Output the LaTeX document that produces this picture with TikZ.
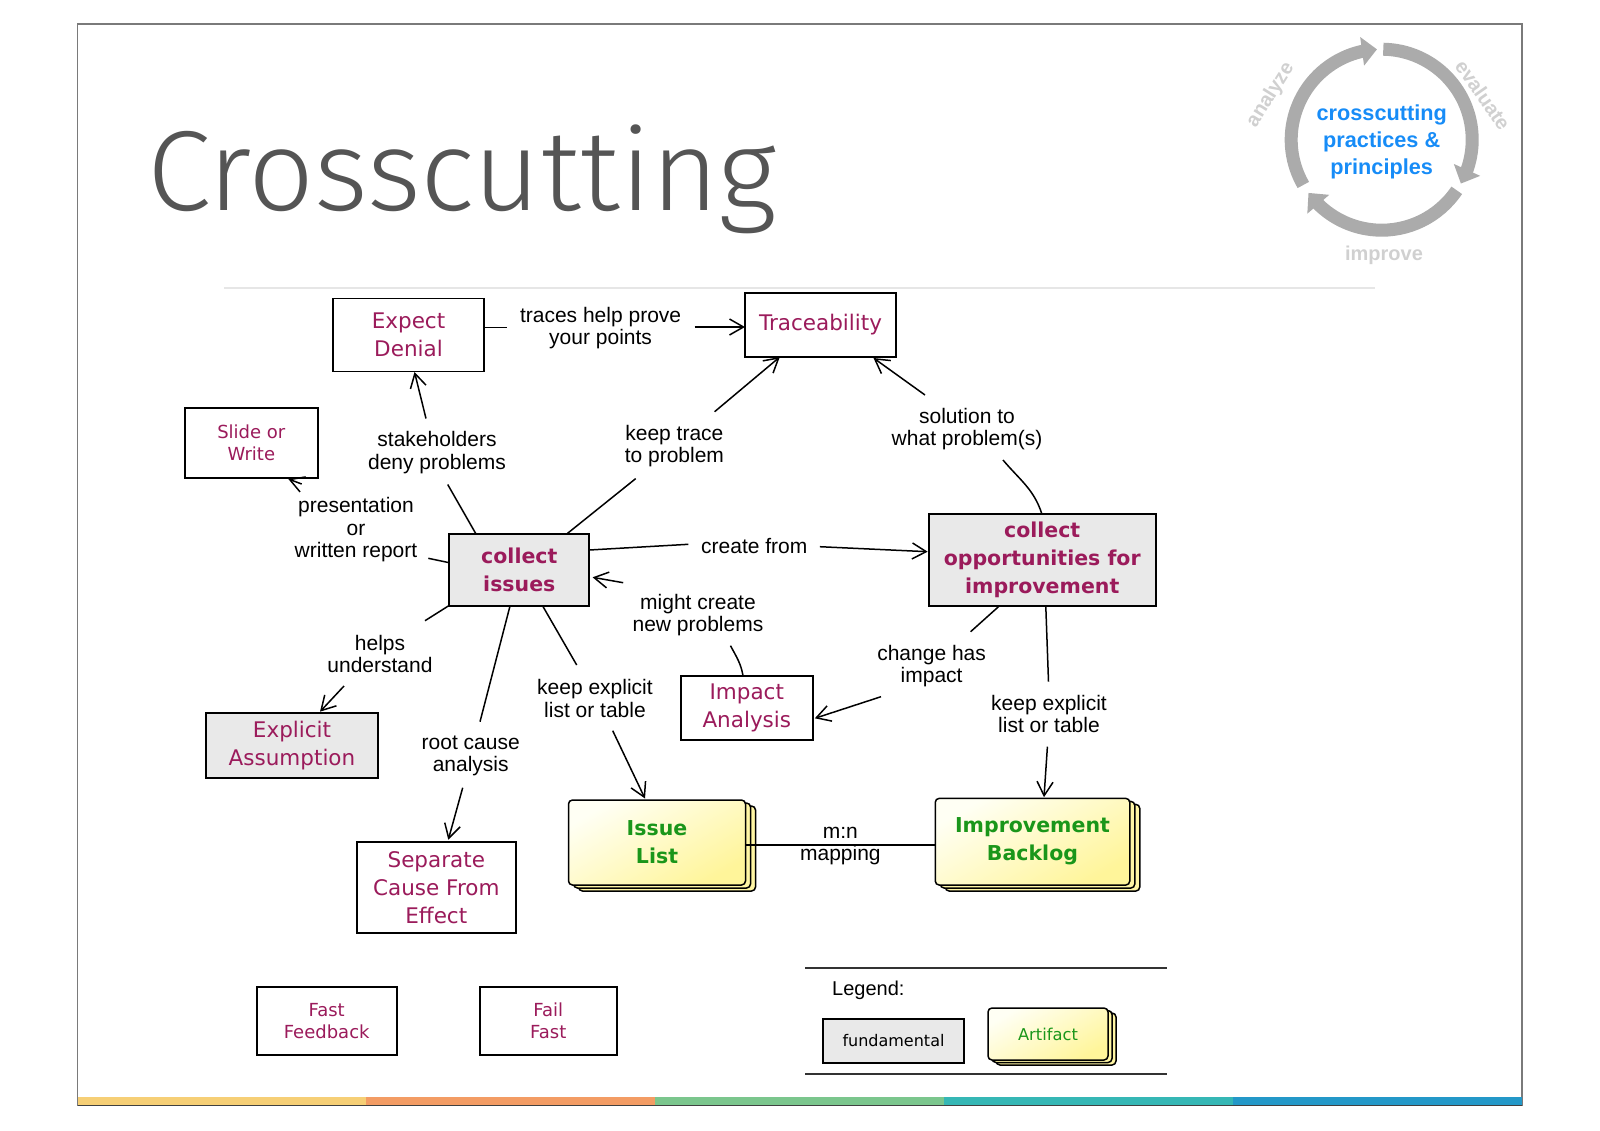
\documentclass[tikz,border=0pt]{standalone}
\usepackage{graphicx}
\usepackage{fontspec}
\usetikzlibrary{arrows.meta,bending}
\newfontfamily\labfont{Liberation Sans}
\newfontfamily\boxfont{DejaVu Sans}
\IfFontExistsTF{Fira Sans Light}{\newfontfamily\titlefont{Fira Sans Light}}{\newfontfamily\titlefont{Fira Sans}}
\definecolor{boxtext}{HTML}{9B1B5B}
\definecolor{fundgray}{HTML}{E9E9E9}
\definecolor{artgreen}{HTML}{1A961A}
\definecolor{artback}{HTML}{FFF6A4}
\definecolor{arttop}{HTML}{FFFFF4}
\definecolor{artbot}{HTML}{FFF59A}
\definecolor{ringgray}{HTML}{ABABAB}
\definecolor{ringtext}{HTML}{D0D0D0}
\definecolor{logoblue}{HTML}{178CF7}
\definecolor{titlegray}{HTML}{555555}
\definecolor{framegray}{HTML}{7A7A7A}
\definecolor{rulegray}{HTML}{E6E6E6}
\definecolor{barA}{HTML}{F6CF76}
\definecolor{barB}{HTML}{F39C64}
\definecolor{barC}{HTML}{7BC68D}
\definecolor{barD}{HTML}{35B7B5}
\definecolor{barE}{HTML}{2398C8}
\begin{document}
\begin{tikzpicture}[x=1pt,y=-1pt,
  box/.style={draw=black, line width=1.8pt, fill=white, text=boxtext, align=center, inner sep=0pt,
    font={\boxfont\fontsize{21.5}{28}\selectfont}},
  fund/.style={box, fill=fundgray, font={\boxfont\bfseries\fontsize{20.5}{28}\selectfont}},
  smallbox/.style={box, font={\boxfont\fontsize{18}{22}\selectfont}},
  lbl/.style={font={\labfont\fontsize{21}{22.5}\selectfont}, align=center, text=black, inner sep=0pt},
  conn/.style={line width=1.5pt, draw=black},
  arr/.style={conn, -{Straight Barb[length=14pt,width=16pt,line width=1.5pt]}},
  artf/.style={draw=black, line width=1.5pt, rounded corners=4pt, top color=arttop, bottom color=artbot,
    shading angle=30, text=artgreen, align=center, inner sep=0pt,
    font={\boxfont\bfseries\fontsize{20.5}{28}\selectfont}},
  artb/.style={draw=black, line width=1.5pt, rounded corners=4pt, fill=artback},
  ring/.style={draw=ringgray, line width=13pt, -{Triangle[length=15pt,width=28pt]}},
  ringlbl/.style={font={\labfont\bfseries\fontsize{20}{22}\selectfont}, text=ringtext, inner sep=0pt}
]
\useasboundingbox (0,0) rectangle (1600,1130);

% frame and colour bar
\draw[line width=1.2pt, draw=framegray] (77.5,24) rectangle (1522,1105);
\fill[barA] (77.5,1097) rectangle (366.4,1105);
\fill[barB] (366.4,1097) rectangle (655.3,1105);
\fill[barC] (655.3,1097) rectangle (944.2,1105);
\fill[barD] (944.2,1097) rectangle (1233.1,1105);
\fill[barE] (1233.1,1097) rectangle (1522,1105);
\draw[line width=1pt, draw=black!75] (77.5,1105) -- (1522,1105);

% title and rule
\node[anchor=base west, inner sep=0pt, text=titlegray] (title) at (147,210)
  {\resizebox{630pt}{85.7pt}{\titlefont\fontsize{120}{120}\selectfont Crosscutting}};
\draw[line width=2pt, draw=rulegray] (224,288) -- (1375,288);

% logo
\draw[ring] (1381.7,139.7) ++(150:90.5) arc[start angle=150, end angle=267, radius=90.5];
\draw[ring] (1381.7,139.7) ++(-89:90.5) arc[start angle=-89, end angle=29, radius=90.5];
\draw[ring] (1381.7,139.7) ++(34:90.5) arc[start angle=34, end angle=144, radius=90.5];
\node[font={\labfont\bfseries\fontsize{21.7}{26.7}\selectfont}, text=logoblue, align=center, inner sep=0pt]
  (logotext) at (1381.7,142) {crosscutting\\practices \&\\principles};
\node[ringlbl, rotate=58] (analyze) at (1270.7,95) {analyze};
\node[ringlbl, rotate=-55] (evaluate) at (1483,95) {evaluate};
\node[ringlbl] (improve) at (1384,255) {improve};

% main nodes
\node[box, minimum width=151pt, minimum height=73pt] (ED) at (408.5,335) {Expect\\Denial};
\node[box, minimum width=151pt, minimum height=64pt] (TR) at (820.5,325) {Traceability};
\node[smallbox, minimum width=132.7pt, minimum height=69.4pt] (SW) at (251.3,443) {Slide or\\Write};
\node[fund, minimum width=140pt, minimum height=71.7pt] (CI) at (519.3,570.2) {collect\\issues};
\node[fund, minimum width=227pt, minimum height=92pt] (COI) at (1042.2,560) {collect\\opportunities for\\improvement};
\node[box, minimum width=132.2pt, minimum height=64.3pt] (IA) at (746.8,707.8) {Impact\\Analysis};
\node[box, fill=fundgray, minimum width=172.3pt, minimum height=64.7pt] (EA) at (292,745.7) {Explicit\\Assumption};
\node[box, minimum width=159.3pt, minimum height=91.3pt] (SC) at (436.3,887.7) {Separate\\Cause From\\Effect};
\node[smallbox, minimum width=140pt, minimum height=68.3pt] (FF) at (326.7,1020.8) {Fast\\Feedback};
\node[smallbox, minimum width=136.7pt, minimum height=68.3pt] (FaF) at (548.3,1020.8) {Fail\\Fast};

% artifacts
\node[artb, minimum width=177pt, minimum height=85pt] (ILb2) at (667,848.5) {};
\node[artb, minimum width=177pt, minimum height=85pt] (ILb1) at (662,845.5) {};
\node[artf, minimum width=177pt, minimum height=85pt] (IL) at (657,842.5) {Issue\\List};
\node[artb, minimum width=194.5pt, minimum height=86.7pt] (IBb2) at (1042.5,847.7) {};
\node[artb, minimum width=194.5pt, minimum height=86.7pt] (IBb1) at (1037.5,844.7) {};
\node[artf, minimum width=194.5pt, minimum height=86.7pt] (IB) at (1032.5,841.7) {Improvement\\Backlog};

% labels
\node[lbl] (L1) at (600.6,328) {traces help prove\\your points};
\node[lbl] (L2) at (437,452.5) {stakeholders\\deny problems};
\node[lbl] (L3) at (674.4,446) {keep trace\\to problem};
\node[lbl] (L4) at (967,429) {solution to\\what problem(s)};
\node[lbl] (L5) at (356,530) {presentation\\or\\written report};
\node[lbl] (L6) at (754.3,546) {create from};
\node[lbl] (L7) at (698,615) {might create\\new problems};
\node[lbl] (L8) at (380,654) {helps\\understand};
\node[lbl] (L9) at (931.6,666) {change has\\impact};
\node[lbl] (L10) at (595,698.3) {keep explicit\\list or table};
\node[lbl] (L11) at (1049,714) {keep explicit\\list or table};
\node[lbl] (L12) at (470.7,756) {root cause\\analysis};
\node[lbl] (L13) at (840.4,846) {m:n\\mapping};

% connectors
\draw[conn] ([shift={(75.5,-7.7)}]ED.center) -- ([shift={(-94,-0.7)}]L1.center);
\draw[arr] ([shift={(94,-1)}]L1.center) -- ([shift={(-75.5,2)}]TR.center);
\draw[conn] ([shift={(10.7,32)}]L2.center) -- ([shift={(-43.3,-36.2)}]CI.center);
\draw[arr] ([shift={(-11,-34)}]L2.center) -- ([shift={(6,37)}]ED.center);
\draw[conn] ([shift={(47.4,-36.2)}]CI.center) -- ([shift={(-38.7,32.6)}]L3.center);
\draw[arr] ([shift={(40.2,-34.3)}]L3.center) -- ([shift={(-40.7,32)}]TR.center);
\draw[conn] ([shift={(36,31)}]L4.center) to[out=-50,in=108] ([shift={(-0.5,-46.5)}]COI.center);
\draw[arr] ([shift={(-42,-34)}]L4.center) -- ([shift={(53,33)}]TR.center);
\draw[conn] ([shift={(-70,-7.5)}]CI.center) -- ([shift={(72.3,28.3)}]L5.center);
\draw[arr] ([shift={(-54.3,-46)}]L5.center) -- ([shift={(37,36)}]SW.center);
\draw[conn] ([shift={(70,-20.2)}]CI.center) -- ([shift={(-66,-1.7)}]L6.center);
\draw[arr] ([shift={(65.5,0.7)}]L6.center) -- ([shift={(-114.5,-8.3)}]COI.center);
\draw[conn] ([shift={(-3.8,-32.2)}]IA.center) to[out=100,in=-62] ([shift={(32.5,30.7)}]L7.center);
\draw[arr] ([shift={(-74.8,-32.3)}]L7.center) -- ([shift={(73.3,7.1)}]CI.center);
\draw[conn] ([shift={(-71,35.8)}]CI.center) -- ([shift={(45,-33.3)}]L8.center);
\draw[arr] ([shift={(-36,32)}]L8.center) -- ([shift={(28,-34)}]EA.center);
\draw[conn] ([shift={(-43.5,46.5)}]COI.center) -- ([shift={(39,-34.3)}]L9.center);
\draw[arr] ([shift={(-50.6,30.7)}]L9.center) -- ([shift={(68,10.5)}]IA.center);
\draw[conn] ([shift={(23.4,35.8)}]CI.center) -- ([shift={(-18.3,-33.3)}]L10.center);
\draw[arr] ([shift={(17.7,32.4)}]L10.center) -- ([shift={(-12,-44)}]IL.center);
\draw[conn] ([shift={(3.6,46.5)}]COI.center) -- ([shift={(-0.5,-32.3)}]L11.center);
\draw[arr] ([shift={(-1.6,32.7)}]L11.center) -- ([shift={(11.5,-44.5)}]IB.center);
\draw[conn] ([shift={(-9.3,35.8)}]CI.center) -- ([shift={(9.3,-34.3)}]L12.center);
\draw[arr] ([shift={(-8,31.7)}]L12.center) -- ([shift={(12,-48)}]SC.center);
\draw[conn] ([shift={(88.5,2.5)}]IL.center) -- ([shift={(-97.3,3.3)}]IB.center);

% legend
\draw[line width=1.5pt, draw=black!80] (805,968) -- (1167,968);
\draw[line width=1.5pt, draw=black!80] (805,1074) -- (1167,1074);
\node[anchor=west, inner sep=0pt, font={\labfont\fontsize{20}{22}\selectfont}] (legend) at (832,990) {Legend:};
\node[box, fill=fundgray, text=black, font={\boxfont\fontsize{16}{20}\selectfont},
  minimum width=141pt, minimum height=44pt] (LF) at (893.5,1041) {fundamental};
\node[artb, minimum width=120pt, minimum height=52pt] (LAb2) at (1056,1039) {};
\node[artb, minimum width=120pt, minimum height=52pt] (LAb1) at (1052,1036.5) {};
\node[artf, font={\boxfont\fontsize{16.3}{20}\selectfont}, minimum width=120pt, minimum height=52pt] (LA) at (1048,1034) {Artifact};
\end{tikzpicture}
\end{document}
